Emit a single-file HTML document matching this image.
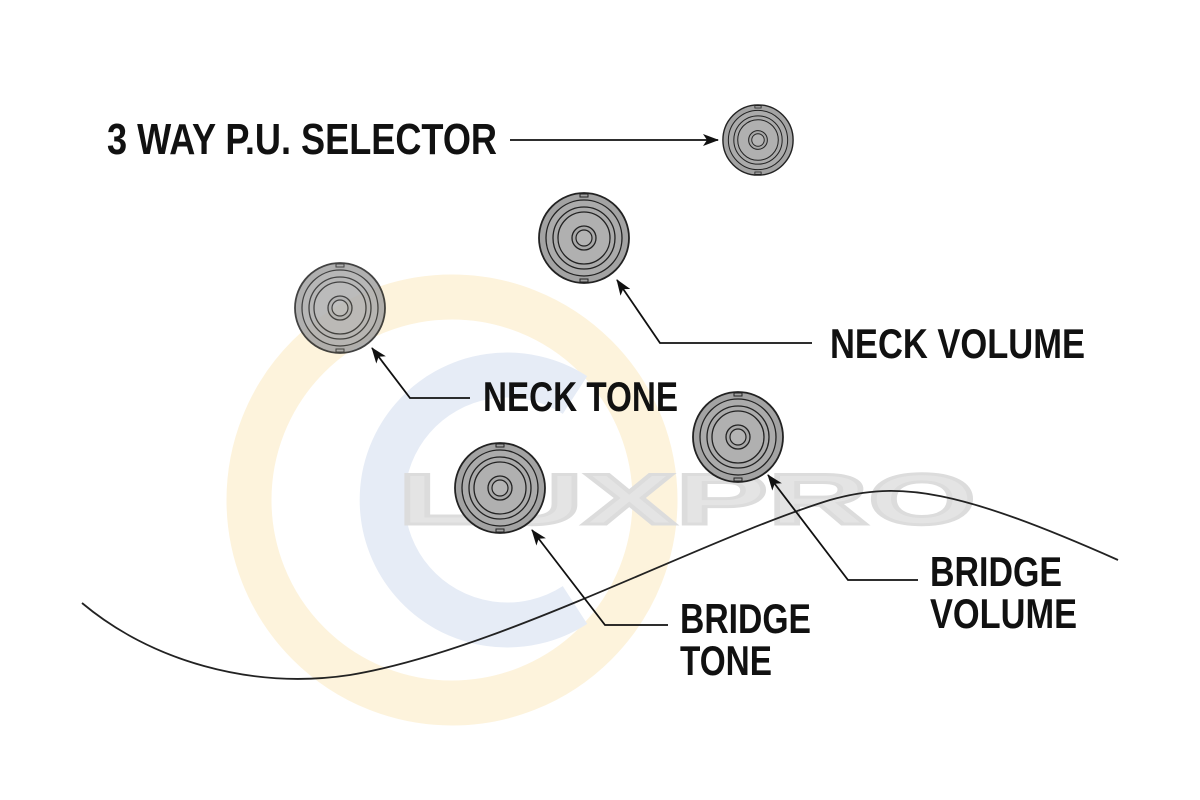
<!DOCTYPE html>
<html><head><style>
body{margin:0;width:1200px;height:800px;background:#fff;overflow:hidden}
svg{display:block}
text{font-family:"Liberation Sans",sans-serif;font-weight:bold;fill:#111}
</style></head><body>
<svg width="1200" height="800" viewBox="0 0 1200 800">
<defs>
<marker id="a" markerWidth="16" markerHeight="12" refX="15" refY="6" orient="auto" markerUnits="userSpaceOnUse"><path d="M0,0 L16,6 L0,12 L4,6 Z" fill="#111"/></marker>
<g id="k">
<circle r="45" fill="#a3a3a3" stroke="#222" stroke-width="1.8"/>
<circle r="38" fill="#ababab" stroke="#222" stroke-width="1.3"/>
<circle r="31" fill="none" stroke="#222" stroke-width="1.3"/>
<circle r="26" fill="#b0b0b0" stroke="#222" stroke-width="1.3"/>
<circle r="12" fill="#a8a8a8" stroke="#222" stroke-width="1.3"/>
<circle r="8" fill="#b4b4b4" stroke="#222" stroke-width="1.2"/>
<rect x="-4" y="-44" width="8" height="3" fill="none" stroke="#222"/>
<rect x="-4" y="41" width="8" height="3" fill="none" stroke="#222"/>
</g>
</defs>
<circle cx="452" cy="500" r="203" fill="none" stroke="#fdf3dc" stroke-width="45"/>
<path d="M575,395 A125,125 0 1,0 575,605" fill="none" stroke="#e6ecf6" stroke-width="45"/>
<text x="398" y="524" font-size="72" style="fill:#e4e4e4;stroke:#dcdcdc;stroke-width:3" textLength="578" lengthAdjust="spacingAndGlyphs">LUXPRO</text>
<path d="M82,603 C150,660 250,690 350,675 C500,650 700,540 830,500 C900,480 960,490 1118,560" fill="none" stroke="#222" stroke-width="1.8"/>
<g transform="translate(758,140) scale(0.78)"><use href="#k"/></g>
<use href="#k" x="584" y="238"/>
<g opacity="0.85"><use href="#k" x="340" y="308"/></g>
<use href="#k" x="738" y="437"/>
<use href="#k" x="500" y="488"/>
<g stroke="#111" stroke-width="1.8" fill="none">
<path d="M510,140 L718,140" marker-end="url(#a)"/>
<path d="M812,343 L660,343 L617,280" marker-end="url(#a)"/>
<path d="M470,398 L410,398 L372,348" marker-end="url(#a)"/>
<path d="M918,580 L848,580 L768,475" marker-end="url(#a)"/>
<path d="M668,625 L605,625 L532,530" marker-end="url(#a)"/>
</g>
<text x="107" y="154" font-size="44" textLength="390" lengthAdjust="spacingAndGlyphs">3 WAY P.U. SELECTOR</text>
<text x="830" y="358" font-size="42" textLength="255" lengthAdjust="spacingAndGlyphs">NECK VOLUME</text>
<text x="483" y="411" font-size="42" textLength="195" lengthAdjust="spacingAndGlyphs">NECK TONE</text>
<text x="930" y="586" font-size="42" textLength="132" lengthAdjust="spacingAndGlyphs">BRIDGE</text>
<text x="930" y="628" font-size="42" textLength="147" lengthAdjust="spacingAndGlyphs">VOLUME</text>
<text x="680" y="633" font-size="42" textLength="131" lengthAdjust="spacingAndGlyphs">BRIDGE</text>
<text x="680" y="675" font-size="42" textLength="92" lengthAdjust="spacingAndGlyphs">TONE</text>
</svg>
</body></html>
